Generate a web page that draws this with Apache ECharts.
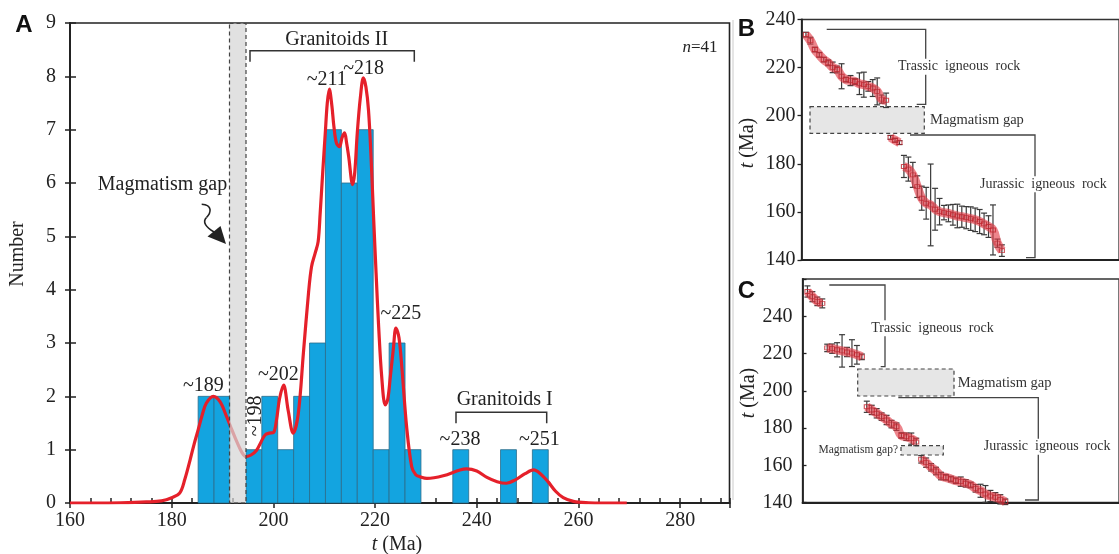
<!DOCTYPE html>
<html><head><meta charset="utf-8">
<script src="https://cdn.jsdelivr.net/npm/echarts@6/dist/echarts.min.js"></script>
<style>html,body{margin:0;padding:0;background:#fff}#c{width:1119px;height:554px}</style>
</head><body><div id="c"></div>
<script>
// ---------- Panel A data ----------
const binStart = 185.2;
const binWidth = 3.13;
const binCounts = [2,2,0,1,2,1,2,3,7,6,7,1,3,1,0,0,1,0,0,1,0,1];
const kdeAge = [160,165,170,175,178,180,181.6,182.6,183.6,184.4,185.2,186.0,186.8,188.2,189.5,190.8,191.8,192.8,193.8,194.6,195.6,196.7,197.6,198.4,199.2,200.0,200.6,201.2,202.0,202.9,203.9,204.9,205.9,206.9,207.5,208.2,208.8,209.2,209.7,210.2,210.6,211.0,211.5,211.9,212.4,213.0,213.5,214.0,214.4,214.8,215.6,216.0,216.5,217.1,217.7,218.2,218.7,219.2,219.7,220.2,220.7,221.3,222.0,222.5,223.0,223.6,224.1,224.7,225.3,226.2,227.2,228.0,228.9,230.2,233.4,236.7,238.0,240.0,242.0,244.0,245.8,247.5,249.5,251.2,252.5,254.0,255.5,257.0,259.0,262.0,265.0,269.5];
const kdeDensity = [0,0,0.005,0.02,0.04,0.1,0.19,0.45,0.8,1.1,1.37,1.65,1.87,2.0,1.9,1.62,1.38,1.15,0.95,0.87,0.9,0.99,1.15,1.28,1.31,1.32,1.55,1.95,2.21,1.74,1.31,1.68,2.81,3.93,4.43,4.68,4.9,5.43,6.2,6.93,7.5,7.76,7.45,7.06,6.75,6.68,6.85,6.94,6.75,6.5,5.97,6.2,6.94,7.6,7.97,7.8,7.37,6.5,5.37,4.3,3.31,2.37,1.84,1.95,2.37,2.9,3.28,3.1,2.5,1.43,0.68,0.53,0.49,0.46,0.51,0.62,0.64,0.6,0.48,0.4,0.37,0.43,0.55,0.62,0.55,0.4,0.22,0.1,0.03,0.005,0,0];
const peakLabels = ['~189','~198','~202','~211','~218','~225','~238','~251'];
const sampleCount = 41;

// ---------- Panel B data: [age, error] in rank order ----------
const bTriassic = [[233.7,1.0],[231.2,1.4],[227.5,1.0],[225.3,1.0],[223.3,1.0],[222.0,1.2],[220.1,2.2],[219.2,1.4],[216.4,5.2],[215.0,1.0],[214.6,2.1],[214.2,1.2],[213.3,4.5],[212.9,5.2],[212.2,2.0],[211.5,3.5],[210.1,5.6],[206.9,1.7],[206.4,3.0]];
const bGap = [[191.0,0.8],[189.8,0.8],[188.8,0.8]];
const bJurassic = [[178.9,4.6],[177.8,5.0],[175.4,5.2],[170.5,4.5],[165.7,5.0],[163.6,6.6],[162.9,17.0],[161.1,8.7],[160.1,5.5],[159.7,3.0],[159.4,3.5],[158.8,4.3],[158.3,4.9],[158.0,4.4],[157.6,4.6],[157.2,4.9],[156.7,4.9],[156.0,5.0],[155.0,4.5],[153.9,4.5],[152.5,10.4],[147.0,1.7],[143.9,2.4]];

// ---------- Panel C data ----------
const cG1 = [[253.3,3.0],[250.5,2.7],[248.0,2.3],[246.9,2.4]];
const cG2 = [[223.0,2.0],[222.6,2.5],[222.0,3.8],[221.4,8.7],[220.8,2.5],[220.2,7.2],[219.3,5.0],[218.2,1.5]];
const cG3 = [[191.4,3.0],[189.7,2.5],[187.9,2.5],[186.1,2.0],[184.3,2.5],[182.1,2.0],[180.7,2.0],[176.0,1.5],[175.3,2.0],[174.3,3.0],[172.5,2.0]];
const cG4 = [[163.2,2.0],[161.4,2.5],[158.9,2.0],[156.9,2.0],[154.2,2.0],[153.5,1.5],[152.6,1.5],[151.7,1.5],[151.2,2.5],[150.3,2.0],[149.4,1.5],[147.6,2.0],[146.3,3.5],[144.6,4.5],[143.5,3.0],[142.8,2.5],[141.7,2.5],[140.4,1.5]];

// ---------- build ----------
const SERIF = '"Liberation Serif","Times New Roman",serif';
const chart = echarts.init(document.getElementById('c'), null, {renderer:'canvas', width:1119, height:554});

function rankData(groups){ let r=0; return groups.map(g=>g.map(p=>{r+=1; return [r,p[0],p[1]];})); }
const bRanked = rankData([bTriassic,bGap,bJurassic]);
const cRanked = rankData([cG1,cG2,cG3,cG4]);

function errSeries(ai, data){
  return {type:'custom', xAxisIndex:ai, yAxisIndex:ai, data:data, z:3, silent:true,
    encode:{x:0,y:1},
    renderItem:(p,api)=>{
      const x=api.value(0), y=api.value(1), e=api.value(2);
      const t=api.coord([x,y+e]), b=api.coord([x,y-e]); const w=3;
      const st={stroke:'#3a3a3a', lineWidth:1.2};
      return {type:'group', children:[
        {type:'line', shape:{x1:t[0],y1:t[1],x2:b[0],y2:b[1]}, style:st},
        {type:'line', shape:{x1:t[0]-w,y1:t[1],x2:t[0]+w,y2:t[1]}, style:st},
        {type:'line', shape:{x1:b[0]-w,y1:b[1],x2:b[0]+w,y2:b[1]}, style:st}
      ]};
    }};
}
function bandSeries(ai, data){
  return {type:'line', xAxisIndex:ai, yAxisIndex:ai, data:data.map(d=>[d[0],d[1]]), smooth:true,
    showSymbol:false, symbol:'none', z:4, silent:true,
    lineStyle:{color:'rgba(226,58,70,0.62)', width:9, cap:'butt'}};
}
function pointSeries(ai, data){
  return {type:'scatter', xAxisIndex:ai, yAxisIndex:ai, data:data.map(d=>[d[0],d[1]]), symbol:'rect', symbolSize:[5,4], z:5, silent:true,
    itemStyle:{color:'rgba(255,255,255,0)', borderColor:'#c0262f', borderWidth:1}};
}

const series = [];
series.push({type:'custom', xAxisIndex:0, yAxisIndex:0, z:2, silent:true,
  data: binCounts.map((c,i)=>[binStart+i*binWidth, binStart+(i+1)*binWidth, c]).filter(d=>d[2]>0),
  encode:{x:[0,1], y:2},
  renderItem:(p,api)=>{
    const p0=api.coord([api.value(0), api.value(2)]);
    const p1=api.coord([api.value(1), 0]);
    return {type:'rect', shape:{x:p0[0], y:p0[1], width:p1[0]-p0[0], height:p1[1]-p0[1]},
      style:{fill:'#13a4e0', stroke:'#2c6c8a', lineWidth:0.8}};
  }});
series.push({type:'line', xAxisIndex:0, yAxisIndex:0, data:kdeAge.map((a,i)=>[a,kdeDensity[i]]),
  smooth:0.35, symbol:'none', showSymbol:false, z:5, silent:true,
  lineStyle:{color:'#e5202a', width:3.2}});
bRanked.forEach(g=>{ series.push(errSeries(1,g)); series.push(bandSeries(1,g)); series.push(pointSeries(1,g)); });
cRanked.forEach(g=>{ series.push(errSeries(2,g)); series.push(bandSeries(2,g)); series.push(pointSeries(2,g)); });

const lblStyle = {fontFamily:SERIF, fontSize:20, color:'#222'};
const option = {
  animation:false,
  backgroundColor:'#fff',
  grid:[
    {left:70, top:23, width:659.5, height:480, show:true, borderColor:'#222', borderWidth:1.6},
    {left:801.5, top:19.5, right:-2, height:240.5, show:true, borderColor:'#333', borderWidth:1.3},
    {left:802.5, top:279, right:-2, height:223.5, show:true, borderColor:'#333', borderWidth:1.3}
  ],
  xAxis:[
    {gridIndex:0, type:'value', min:160, max:289.7, interval:4, splitLine:{show:false},
      axisLine:{lineStyle:{color:'#222', width:2}},
      axisTick:{inside:true, length:5, lineStyle:{color:'#222', width:1.5}},
      axisLabel:Object.assign({margin:8, formatter:v=> (Math.abs(v%20)<1e-6 ? String(v) : '')}, lblStyle)},
    {gridIndex:1, type:'value', min:0, max:71.3, splitLine:{show:false},
      axisLine:{lineStyle:{color:'#222', width:1.8}}, axisTick:{show:false}, axisLabel:{show:false}},
    {gridIndex:2, type:'value', min:0, max:64, splitLine:{show:false},
      axisLine:{lineStyle:{color:'#222', width:1.8}}, axisTick:{show:false}, axisLabel:{show:false}},
    {gridIndex:0, type:'value', position:'bottom', min:160, max:289.7, interval:20, splitLine:{show:false},
      axisLine:{show:false}, axisTick:{inside:false, length:5, lineStyle:{color:'#222', width:1.5}}, axisLabel:{show:false}}
  ],
  yAxis:[
    {gridIndex:0, type:'value', min:0, max:9, interval:1, splitLine:{show:false},
      axisLine:{show:true, lineStyle:{color:'#222', width:2}},
      axisTick:{inside:true, length:6, lineStyle:{color:'#222', width:1.5}},
      axisLabel:Object.assign({margin:14}, lblStyle)},
    {gridIndex:1, type:'value', min:140, max:240, interval:20, splitLine:{show:false},
      axisLine:{show:true, lineStyle:{color:'#222', width:1.8}},
      axisTick:{inside:false, length:4, lineStyle:{color:'#222', width:1.3}},
      axisLabel:Object.assign({margin:6}, lblStyle)},
    {gridIndex:2, type:'value', min:140, max:260, interval:20, splitLine:{show:false},
      axisLine:{show:true, lineStyle:{color:'#222', width:1.8}},
      axisTick:{inside:true, length:4, lineStyle:{color:'#222', width:1.3}},
      axisLabel:Object.assign({margin:10, formatter:v=> (v>=260 ? '' : String(v))}, lblStyle)},
    {gridIndex:0, type:'value', position:'left', offset:0, min:0, max:9, interval:1, splitLine:{show:false},
      axisLine:{show:false}, axisTick:{inside:false, length:5, lineStyle:{color:'#222', width:1.5}}, axisLabel:{show:false}}
  ],
  series:series
};

function txt(text, x, y, o){
  o=o||{};
  return {type:'text', x:x, y:y, rotation:o.rot||0, z:o.z||20, silent:true,
    style:Object.assign({text:text, fill:o.color||'#222', font:(o.weight||'normal')+' '+(o.size||20)+'px '+(o.family||SERIF),
      textAlign:o.align||'center', textVerticalAlign:'middle'},
      o.bg?{backgroundColor:'#fff', padding:[1,2]}:{},
      o.rich?{rich:o.rich}:{})};
}
function pl(points, o){ o=o||{}; return {type:'polyline', z:o.z||15, silent:true, shape:{points:points}, style:{stroke:o.color||'#444', lineWidth:o.w||1.3, fill:null}}; }
function dashRect(x,y,w,h,fill,z){ return {type:'rect', z:z||1, silent:true, shape:{x:x,y:y,width:w,height:h}, style:{fill:fill||'#e6e6e6', stroke:'#444', lineWidth:1.2, lineDash:[4,3]}}; }
const ital = {i:{fontStyle:'italic', fontFamily:SERIF, fontSize:20, fill:'#222'}};
const italN = {i:{fontStyle:'italic', fontFamily:SERIF, fontSize:17, fill:'#222'}};

option.graphic = {elements:[
  {type:'line', z:0, silent:true, shape:{x1:733,y1:20,x2:733,y2:500}, style:{stroke:'#d4d4d4', lineWidth:1.2}},
  // Panel A
  dashRect(229.5, 23.5, 16.5, 479.5, 'rgba(214,214,214,0.72)', 30),
  txt('A', 24, 25, {family:'"Liberation Sans",Arial,sans-serif', weight:'bold', size:24, color:'#111'}),
  txt('Number', 18, 254, {rot:Math.PI/2}),
  txt('{i|t} (Ma)', 397, 545, {rich:ital}),
  txt('Granitoids II', 336.7, 39.3),
  pl([[250,61.7],[250,50.7],[414.3,50.7],[414.3,61.7]], {color:'#333', w:1.5}),
  txt('Granitoids I', 504.7, 400),
  pl([[456,423.3],[456,412.3],[546.7,412.3],[546.7,423.3]], {color:'#333', w:1.5}),
  txt(peakLabels[0], 203.3, 386),
  txt(peakLabels[1], 255.8, 415.8, {rot:Math.PI/2}),
  txt(peakLabels[2], 278.3, 375),
  txt(peakLabels[3], 326.7, 80),
  txt(peakLabels[4], 363.7, 68.3),
  txt(peakLabels[5], 400.8, 313.3),
  txt(peakLabels[6], 460, 439.3),
  txt(peakLabels[7], 539.3, 440),
  txt('Magmatism gap', 162.5, 185),
  txt('{i|n}=' + sampleCount, 700, 48, {size:17, rich:italN}),
  {type:'bezierCurve', z:20, silent:true, shape:{x1:201.7,y1:204.3,cpx1:213,cpy1:205,cpx2:211,cpy2:213,x2:206.5,y2:217.5}, style:{stroke:'#222', lineWidth:1.6, fill:null}},
  {type:'bezierCurve', z:20, silent:true, shape:{x1:206.5,y1:217.5,cpx1:202,cpy1:222,cpx2:206,cpy2:227,x2:214,y2:232}, style:{stroke:'#222', lineWidth:1.6, fill:null}},
  {type:'polygon', z:20, silent:true, shape:{points:[[226,244],[207.5,236.5],[220.5,226]]}, style:{fill:'#222'}},
  // Panel B
  txt('B', 746.5, 29.5, {family:'"Liberation Sans",Arial,sans-serif', weight:'bold', size:24, color:'#111'}),
  txt('{i|t} (Ma)', 747.5, 143, {rot:Math.PI/2, rich:ital}),
  dashRect(810, 106.7, 114.3, 26.6),
  pl([[826.7,29.3],[925.7,29.3],[925.7,104.3],[916.7,104.3]]),
  pl([[910,135],[1035,135],[1035,257.7],[1026,257.7]]),
  txt('Trassic  igneous  rock', 896, 66.7, {size:14, align:'left', bg:true, color:'#333'}),
  txt('Magmatism gap', 930, 120, {size:14.5, align:'left', color:'#333'}),
  txt('Jurassic  igneous  rock', 978, 184.3, {size:14, align:'left', bg:true, color:'#333'}),
  // Panel C
  txt('C', 746.5, 291.5, {family:'"Liberation Sans",Arial,sans-serif', weight:'bold', size:24, color:'#111'}),
  txt('{i|t} (Ma)', 749, 393, {rot:Math.PI/2, rich:ital}),
  dashRect(857.7, 369, 96.3, 27),
  dashRect(901, 445.7, 42.3, 9.3),
  pl([[829.3,285],[885,285],[885,366.7],[880.7,366.7]]),
  pl([[898.3,397.7],[1038.3,397.7],[1038.3,500],[1025,500]]),
  txt('Trassic  igneous  rock', 869.3, 328.3, {size:14, align:'left', bg:true, color:'#333'}),
  txt('Magmatism gap', 957.7, 382.7, {size:14.5, align:'left', color:'#333'}),
  txt('Jurassic  igneous  rock', 981.7, 446.7, {size:14, align:'left', bg:true, color:'#333'}),
  txt('Magmatism gap?', 898, 450, {size:11.5, align:'right', color:'#333'})
]};

chart.setOption(option);
</script>
</body></html>
